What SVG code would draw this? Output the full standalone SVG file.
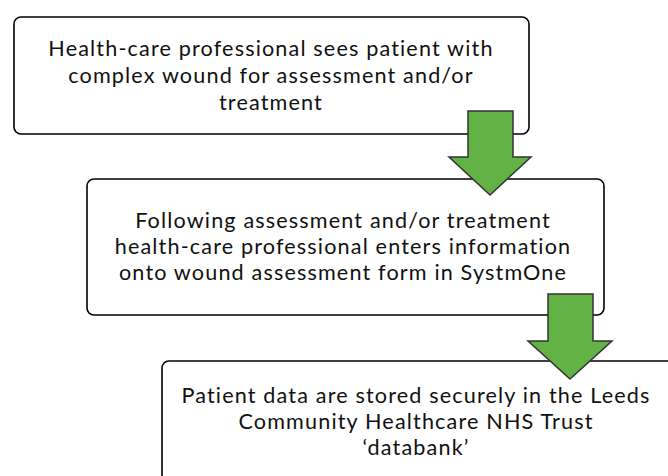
<svg xmlns="http://www.w3.org/2000/svg" width="668" height="476" viewBox="0 0 668 476">
<style>
.box{fill:#fff;stroke:#000;stroke-width:1.6}
.t{font-family:Lato,"Noto Sans",sans-serif;font-size:21.6px;letter-spacing:1.15px;fill:#111;text-anchor:middle}
.arr{fill:#62B246;stroke:#333;stroke-width:1.5;stroke-linejoin:miter}
</style>
<rect width="668" height="476" fill="#fff"/>
<g id="node1">
<rect class="box" x="14" y="17" width="515" height="117" rx="7"/>
<text class="t" x="271" y="56">Health-care professional sees patient with</text>
<text class="t" x="271" y="83">complex wound for assessment and/or</text>
<text class="t" x="271" y="110">treatment</text>
</g>
<g id="node2">
<rect class="box" x="87" y="179" width="517" height="136" rx="7"/>
<text class="t" x="343" y="228">Following assessment and/or treatment</text>
<text class="t" x="343" y="254">health-care professional enters information</text>
<text class="t" x="343" y="280">onto wound assessment form in SystmOne</text>
</g>
<g id="node3">
<rect class="box" x="162" y="361" width="530" height="140" rx="7"/>
<text class="t" x="416" y="403">Patient data are stored securely in the Leeds</text>
<text class="t" x="416" y="429">Community Healthcare NHS Trust</text>
<text class="t" x="416" y="455">‘databank’</text>
</g>
<g id="connectors">
<polygon class="arr" points="468,111 513,111 513,157 531,157 490,195 449,157 468,157"/>
<polygon class="arr" points="548,294 593,294 593,341 612,341 570,379 528,341 548,341"/>
</g>
</svg>
